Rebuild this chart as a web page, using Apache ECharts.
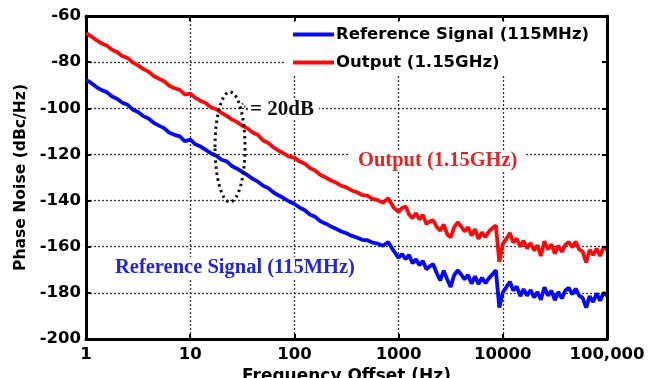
<!DOCTYPE html>
<html><head><meta charset="utf-8">
<script src="https://cdn.jsdelivr.net/npm/echarts@6.0.0/dist/echarts.min.js"></script>
<style>html,body{margin:0;padding:0;background:#fff}#c{width:663px;height:378px}</style>
</head><body><div id="c"></div>
<script>
// Frequency offsets (Hz)
const freq = [
1,1.12,1.26,1.41,1.58,1.78,2,2.24,2.51,2.82,3.16,3.55,3.98,4.47,5.01,5.62,6.31,7.08,7.94,8.91,
10,11.2,12.6,14.1,15.8,17.8,20,22.4,25.1,28.2,31.6,35.5,39.8,44.7,50.1,56.2,63.1,70.8,79.4,89.1,
100,112,126,141,158,178,200,224,251,282,316,355,398,447,501,562,631,708,794,891,
1000,1080,1170,1260,1360,1470,1580,1710,1850,2000,2150,2320,2510,2710,2930,3160,3410,3690,3980,4300,4640,5010,5410,5840,6310,6810,7360,7940,8580,9260,
10000,10800,11700,12600,13600,14700,15800,17100,18500,20000,21500,23200,25100,27100,29300,31600,34100,36900,39800,43000,46400,50100,54100,58400,63100,68100,73600,79400,85800,92600,100000
];
// Reference Signal (115MHz) phase noise, dBc/Hz
const refSignal = [
-87.7,-89.0,-90.8,-92.1,-93.0,-94.9,-96.0,-97.6,-98.5,-100.6,-101.6,-103.4,-104.4,-106.3,-107.5,-108.6,-110.6,-111.5,-112.2,-114.3,
-113.5,-115.6,-116.6,-118.0,-119.5,-120.6,-122.3,-123.0,-125.0,-126.2,-127.6,-129.0,-130.6,-131.8,-133.6,-134.6,-136.5,-137.8,-139.0,-140.4,
-141.5,-143.0,-144.2,-146.0,-147.0,-149.0,-150.0,-151.2,-152.2,-153.4,-154.2,-155.3,-156.0,-157.0,-157.2,-158.2,-158.7,-159.6,-158.0,-161.6,
-164.8,-163.2,-165.4,-163.6,-167.2,-165.4,-168.0,-166.2,-169.8,-168.4,-167.6,-171.4,-174.6,-170.4,-174.2,-177.4,-172.4,-170.2,-172.0,-174.2,-172.2,-176.0,-172.8,-176.2,-173.4,-175.8,-173.6,-172.0,-170.2,-186.4,
-179.8,-177.6,-175.2,-179.0,-177.2,-181.4,-178.4,-181.2,-178.8,-182.0,-179.6,-183.0,-177.6,-181.2,-179.0,-183.2,-179.6,-182.4,-179.0,-177.8,-180.6,-178.2,-181.2,-182.2,-186.4,-181.4,-184.0,-180.2,-183.4,-180.0,-181.2
];
// Output (1.15GHz) phase noise, dBc/Hz
const outputSignal = [
-67.4,-68.8,-70.5,-71.9,-72.8,-74.6,-75.7,-77.4,-78.2,-80.2,-81.4,-83.0,-84.1,-86.0,-87.2,-88.3,-90.2,-91.3,-92.0,-94.1,
-93.6,-95.5,-96.8,-97.7,-99.6,-100.4,-102.0,-103.3,-104.8,-106.0,-107.6,-108.7,-110.5,-111.6,-114.0,-115.0,-117.0,-118.4,-119.6,-121.0,
-121.4,-123.0,-124.0,-125.9,-127.0,-128.9,-130.0,-131.3,-132.2,-133.6,-134.3,-135.6,-136.4,-137.6,-137.9,-139.3,-139.8,-141.0,-139.0,-142.8,
-145.0,-143.2,-142.6,-146.0,-147.6,-145.4,-148.2,-146.2,-150.2,-149.0,-148.6,-151.4,-153.0,-150.4,-154.6,-156.0,-151.6,-149.4,-151.2,-153.4,-151.6,-155.2,-152.4,-156.6,-153.8,-155.8,-153.4,-152.0,-150.8,-166.6,
-158.8,-156.6,-154.0,-158.2,-156.4,-160.0,-157.4,-160.8,-158.4,-161.6,-159.4,-164.0,-157.6,-161.2,-159.0,-163.0,-159.6,-162.2,-159.2,-158.0,-160.2,-157.8,-161.2,-162.0,-166.8,-161.4,-163.6,-160.8,-164.0,-160.2,-161.2
];
const seriesNames = ['Reference Signal (115MHz)', 'Output (1.15GHz)'];
const xTickLabels = {1:'1',10:'10',100:'100',1000:'1000',10000:'10000',100000:'100,000'};
const yMin = -200, yMax = -60, yStep = 20;

const chart = echarts.init(document.getElementById('c'), null, {renderer:'canvas'});
const lblFont = {fontFamily:'DejaVu Sans', fontWeight:'bold', fontSize:16.5, color:'#000'};
const axisLineStyle = {color:'#000', width:3};
const grid = {type:[2,2], color:'#333', width:1.3};
const pairs = arr => freq.map((f,i)=>[f, arr[i]]);

chart.setOption({
  animation:false,
  backgroundColor:'#fff',
  grid:{left:86, right:56, top:16, bottom:39, outerBoundsMode:'none', containLabel:false},
  xAxis:[{
    type:'log', logBase:10, min:1, max:100000,
    axisLine:{show:true, lineStyle:axisLineStyle},
    axisTick:{show:true, inside:true, length:5, lineStyle:{color:'#000', width:2}},
    axisLabel:Object.assign({margin:7, formatter:v=>xTickLabels[Math.round(v)] || ''}, lblFont),
    splitLine:{show:true, lineStyle:grid},
    name:'Frequency Offset (Hz)', nameLocation:'middle', nameGap:25,
    nameTextStyle:{fontFamily:'DejaVu Sans', fontWeight:'bold', fontSize:17, color:'#000', verticalAlign:'top'}
  },{
    type:'log', logBase:10, min:1, max:100000, position:'top', z:3,
    axisLine:{show:true, lineStyle:axisLineStyle},
    axisTick:{show:true, inside:true, length:5, lineStyle:{color:'#000', width:2}},
    axisLabel:{show:false}, splitLine:{show:false}
  }],
  yAxis:[{
    type:'value', min:yMin, max:yMax, interval:yStep,
    axisLine:{show:true, lineStyle:axisLineStyle},
    axisTick:{show:true, inside:true, length:5, lineStyle:{color:'#000', width:2}},
    axisLabel:Object.assign({margin:5}, lblFont),
    splitLine:{show:true, lineStyle:grid},
    name:'Phase Noise (dBc/Hz)', nameLocation:'middle', nameGap:53, nameRotate:90,
    nameTextStyle:{fontFamily:'DejaVu Sans', fontWeight:'bold', fontSize:15.6, color:'#000'}
  },{
    type:'value', min:yMin, max:yMax, interval:yStep, position:'right', z:3,
    axisLine:{show:true, lineStyle:axisLineStyle},
    axisTick:{show:true, inside:true, length:5, lineStyle:{color:'#000', width:2}},
    axisLabel:{show:false}, splitLine:{show:false}
  }],
  legend:{
    orient:'vertical', left:288, top:21, itemWidth:41, itemHeight:4, itemGap:11,
    icon:'rect', data:seriesNames,
    textStyle:{fontFamily:'DejaVu Sans', fontWeight:'bold', fontSize:16.5, color:'#000', padding:[0,0,0,-3]}
  },
  series:[
    {name:seriesNames[0], type:'line', data:pairs(refSignal), showSymbol:false, symbol:'none',
     lineStyle:{color:'#0808f5', width:3.8}, itemStyle:{color:'#0808f5'}, z:2},
    {name:seriesNames[1], type:'line', data:pairs(outputSignal), showSymbol:false, symbol:'none',
     lineStyle:{color:'#fa0a0a', width:3.8}, itemStyle:{color:'#fa0a0a'}, z:2}
  ],
  graphic:[
    {type:'rect', z:1, shape:{x:284, y:22, width:316, height:54}, style:{fill:'#fff'}},
    {type:'text', z:1, left:248, top:99, style:{text:'= 20dB', fontFamily:'Liberation Serif', fontWeight:'bold', fontSize:21, fill:'#111', backgroundColor:'#fff', padding:[0,5,0,2]}},
    {type:'text', z:1, left:350, top:150, style:{text:'Output (1.15GHz)', fontFamily:'Liberation Serif', fontWeight:'bold', fontSize:20.5, fill:'#e02525', backgroundColor:'#fff', padding:[0,8,0,8]}},
    {type:'text', z:1, left:113, top:257, style:{text:'Reference Signal (115MHz)', fontFamily:'Liberation Serif', fontWeight:'bold', fontSize:20.5, fill:'#2525d8', backgroundColor:'#fff', padding:[0,2,0,2]}},
    {type:'ellipse', z:5, shape:{cx:230, cy:147, rx:15, ry:55}, style:{fill:null, stroke:'#111', lineWidth:3, lineDash:[2.5,3.5]}},
    {type:'line', z:5, shape:{x1:242, y1:103, x2:248, y2:111}, style:{stroke:'#444', lineWidth:1.5, lineDash:[2,1.5]}}
  ]
});
</script></body></html>
